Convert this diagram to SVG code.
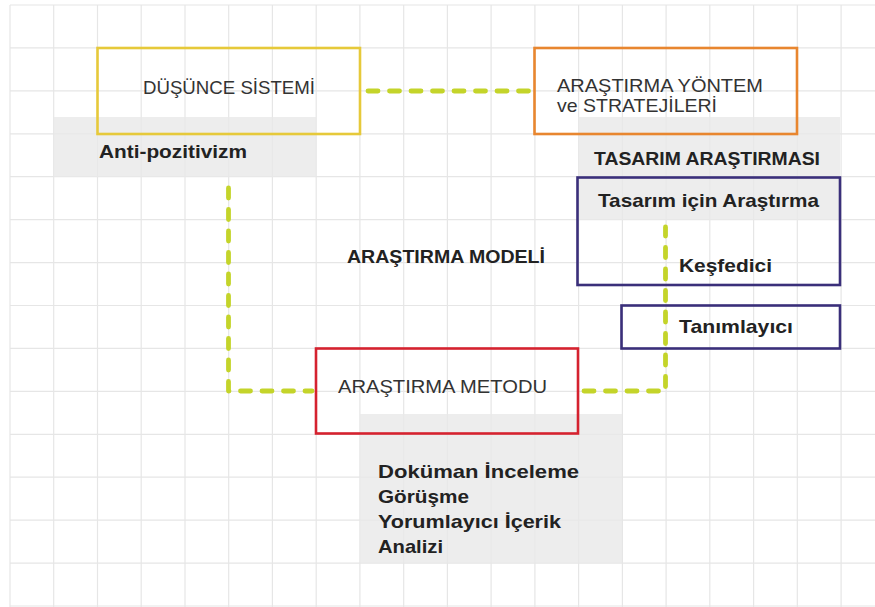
<svg xmlns="http://www.w3.org/2000/svg" width="875" height="607" viewBox="0 0 875 607">
<style>
.grid line{stroke:#e6e6e6;stroke-width:1.2}
.shade{fill:#e8e8e8;opacity:0.8}
.box{fill:none;stroke-width:2.6}
.reg{font-family:"Liberation Sans",Arial,sans-serif;font-size:19px;fill:#333}
.bold{font-family:"Liberation Sans",Arial,sans-serif;font-size:19px;font-weight:bold;fill:#222}
.dash{fill:none;stroke:#c4d42a;stroke-width:4.8;stroke-linecap:round;stroke-linejoin:round;stroke-dasharray:10 11.5}
</style>
<rect x="0" y="0" width="875" height="607" fill="#ffffff"/>
<g class="grid">
<line x1="10" y1="5" x2="10" y2="607"/><line x1="53.7" y1="5" x2="53.7" y2="607"/><line x1="97.5" y1="5" x2="97.5" y2="607"/><line x1="141.2" y1="5" x2="141.2" y2="607"/><line x1="185" y1="5" x2="185" y2="607"/><line x1="228.7" y1="5" x2="228.7" y2="607"/><line x1="272.4" y1="5" x2="272.4" y2="607"/><line x1="316.2" y1="5" x2="316.2" y2="607"/><line x1="359.9" y1="5" x2="359.9" y2="607"/><line x1="403.7" y1="5" x2="403.7" y2="607"/><line x1="447.4" y1="5" x2="447.4" y2="607"/><line x1="491.1" y1="5" x2="491.1" y2="607"/><line x1="534.9" y1="5" x2="534.9" y2="607"/><line x1="578.6" y1="5" x2="578.6" y2="607"/><line x1="622.4" y1="5" x2="622.4" y2="607"/><line x1="666.1" y1="5" x2="666.1" y2="607"/><line x1="709.8" y1="5" x2="709.8" y2="607"/><line x1="753.6" y1="5" x2="753.6" y2="607"/><line x1="797.3" y1="5" x2="797.3" y2="607"/><line x1="841.1" y1="5" x2="841.1" y2="607"/>
<line x1="10" y1="5" x2="875" y2="5"/><line x1="10" y1="47.9" x2="875" y2="47.9"/><line x1="10" y1="90.9" x2="875" y2="90.9"/><line x1="10" y1="133.8" x2="875" y2="133.8"/><line x1="10" y1="176.7" x2="875" y2="176.7"/><line x1="10" y1="219.7" x2="875" y2="219.7"/><line x1="10" y1="262.6" x2="875" y2="262.6"/><line x1="10" y1="305.5" x2="875" y2="305.5"/><line x1="10" y1="348.4" x2="875" y2="348.4"/><line x1="10" y1="391.4" x2="875" y2="391.4"/><line x1="10" y1="434.3" x2="875" y2="434.3"/><line x1="10" y1="477.2" x2="875" y2="477.2"/><line x1="10" y1="520.2" x2="875" y2="520.2"/><line x1="10" y1="563.1" x2="875" y2="563.1"/><line x1="10" y1="606" x2="875" y2="606"/>
</g>
<g id="shades">
<rect class="shade" x="54" y="117" width="262" height="60"/>
<rect class="shade" x="578" y="117" width="262" height="103"/>
<rect class="shade" x="360" y="414" width="262" height="149"/>
</g>
<g id="connectors">
<path class="dash" d="M368 91 H530"/>
<path class="dash" d="M228.5 188 V391 H312"/>
<path class="dash" d="M584 391 H665.5 V227"/>
</g>
<g id="dusunce">
<rect class="box" x="97.5" y="48" width="262.5" height="86" stroke="#e6c93a"/>
<text class="reg" x="143" y="94" textLength="172" lengthAdjust="spacingAndGlyphs">DÜŞÜNCE SİSTEMİ</text>
</g>
<g id="antipoz">
<text class="bold" x="99" y="158" textLength="148" lengthAdjust="spacingAndGlyphs">Anti-pozitivizm</text>
</g>
<g id="yontem">
<rect class="box" x="534.5" y="48" width="262.5" height="86" stroke="#e8862f"/>
<text class="reg" x="557" y="92" textLength="206" lengthAdjust="spacingAndGlyphs">ARAŞTIRMA YÖNTEM</text>
<text class="reg" x="557" y="112" textLength="160" lengthAdjust="spacingAndGlyphs">ve STRATEJİLERİ</text>
</g>
<g id="tasarim-arastirmasi">
<text class="bold" x="594" y="165" textLength="226" lengthAdjust="spacingAndGlyphs">TASARIM ARAŞTIRMASI</text>
</g>
<g id="tasarim-icin">
<rect class="box" x="577.5" y="177.5" width="262.5" height="107.5" stroke="#3a2f7a"/>
<text class="bold" x="598" y="207" textLength="221" lengthAdjust="spacingAndGlyphs">Tasarım için Araştırma</text>
<text class="bold" x="679" y="272" textLength="93" lengthAdjust="spacingAndGlyphs">Keşfedici</text>
</g>
<g id="tanimlayici">
<rect class="box" x="621.5" y="305.5" width="218.5" height="43" stroke="#3a2f7a"/>
<text class="bold" x="679" y="333" textLength="114" lengthAdjust="spacingAndGlyphs">Tanımlayıcı</text>
</g>
<g id="model">
<text class="bold" x="347" y="263" textLength="198" lengthAdjust="spacingAndGlyphs">ARAŞTIRMA MODELİ</text>
</g>
<g id="metod">
<rect class="box" x="316" y="348.5" width="262" height="85" stroke="#d5222f"/>
<text class="reg" x="338" y="393" textLength="209" lengthAdjust="spacingAndGlyphs">ARAŞTIRMA METODU</text>
</g>
<g id="teknikler">
<text class="bold" x="378" y="478" textLength="201" lengthAdjust="spacingAndGlyphs">Doküman İnceleme</text>
<text class="bold" x="378" y="503" textLength="91" lengthAdjust="spacingAndGlyphs">Görüşme</text>
<text class="bold" x="378" y="528" textLength="183" lengthAdjust="spacingAndGlyphs">Yorumlayıcı İçerik</text>
<text class="bold" x="378" y="553" textLength="65" lengthAdjust="spacingAndGlyphs">Analizi</text>
</g>
</svg>
